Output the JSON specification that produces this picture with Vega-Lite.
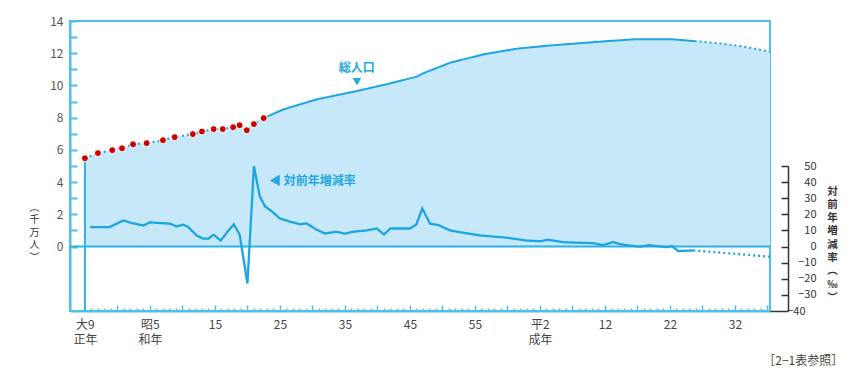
{
  "$schema": "https://vega.github.io/schema/vega-lite/v6.json",
  "width": 700,
  "height": 290,
  "autosize": "none",
  "padding": {"left": 70, "top": 21, "right": 85, "bottom": 74},
  "background": "white",
  "config": {
    "view": {"stroke": "#4DBFEC", "strokeWidth": 2},
    "font": "Noto Sans CJK JP"
  },
  "title": {"text": "［2−1表参照］", "orient": "bottom", "anchor": "end", "frame": "bounds", "fontSize": 12, "fontWeight": "normal", "color": "#4a3f3a", "offset": 11, "dx": 6},
  "datasets": {
    "pop": [
      {"year": 1920, "v": 5.48, "part": "estimate"},
      {"year": 1922, "v": 5.8, "part": "estimate"},
      {"year": 1924.2, "v": 5.98, "part": "estimate"},
      {"year": 1925.7, "v": 6.1, "part": "estimate"},
      {"year": 1927.4, "v": 6.35, "part": "estimate"},
      {"year": 1929.5, "v": 6.42, "part": "estimate"},
      {"year": 1932, "v": 6.6, "part": "estimate"},
      {"year": 1933.8, "v": 6.79, "part": "estimate"},
      {"year": 1936.6, "v": 6.98, "part": "estimate"},
      {"year": 1938, "v": 7.14, "part": "estimate"},
      {"year": 1939.8, "v": 7.29, "part": "estimate"},
      {"year": 1941.2, "v": 7.29, "part": "estimate"},
      {"year": 1942.8, "v": 7.41, "part": "estimate"},
      {"year": 1943.8, "v": 7.53, "part": "estimate"},
      {"year": 1944.9, "v": 7.22, "part": "estimate"},
      {"year": 1946, "v": 7.6, "part": "estimate"},
      {"year": 1947.5, "v": 7.97, "part": "estimate"},
      {"year": 1947.5, "v": 7.97, "part": "actual"},
      {"year": 1950.5, "v": 8.51, "part": "actual"},
      {"year": 1955.6, "v": 9.13, "part": "actual"},
      {"year": 1961.8, "v": 9.65, "part": "actual"},
      {"year": 1966.9, "v": 10.12, "part": "actual"},
      {"year": 1971, "v": 10.54, "part": "actual"},
      {"year": 1972, "v": 10.75, "part": "actual"},
      {"year": 1976.2, "v": 11.41, "part": "actual"},
      {"year": 1981.3, "v": 11.93, "part": "actual"},
      {"year": 1986.4, "v": 12.28, "part": "actual"},
      {"year": 1991.5, "v": 12.48, "part": "actual"},
      {"year": 1995.1, "v": 12.59, "part": "actual"},
      {"year": 2000.3, "v": 12.75, "part": "actual"},
      {"year": 2004.4, "v": 12.86, "part": "actual"},
      {"year": 2010.5, "v": 12.86, "part": "actual"},
      {"year": 2013.8, "v": 12.75, "part": "actual"},
      {"year": 2013.8, "v": 12.75, "part": "projection"},
      {"year": 2018.2, "v": 12.59, "part": "projection"},
      {"year": 2021.8, "v": 12.38, "part": "projection"},
      {"year": 2025.4, "v": 12.09, "part": "projection"}
    ],
    "rate": [
      {"year": 1920.8, "r": 12.1, "part": "actual"},
      {"year": 1923.8, "r": 12.1, "part": "actual"},
      {"year": 1925.9, "r": 16.2, "part": "actual"},
      {"year": 1927.2, "r": 14.6, "part": "actual"},
      {"year": 1929.0, "r": 13.1, "part": "actual"},
      {"year": 1930.0, "r": 15.0, "part": "actual"},
      {"year": 1931.5, "r": 14.6, "part": "actual"},
      {"year": 1933.1, "r": 14.2, "part": "actual"},
      {"year": 1934.1, "r": 12.5, "part": "actual"},
      {"year": 1935.1, "r": 13.6, "part": "actual"},
      {"year": 1935.9, "r": 12.1, "part": "actual"},
      {"year": 1937.2, "r": 6.8, "part": "actual"},
      {"year": 1938.2, "r": 4.9, "part": "actual"},
      {"year": 1939.0, "r": 4.9, "part": "actual"},
      {"year": 1939.8, "r": 7.4, "part": "actual"},
      {"year": 1940.9, "r": 3.7, "part": "actual"},
      {"year": 1941.8, "r": 8.5, "part": "actual"},
      {"year": 1942.9, "r": 13.8, "part": "actual"},
      {"year": 1943.8, "r": 7.4, "part": "actual"},
      {"year": 1945.0, "r": -22.9, "part": "actual"},
      {"year": 1946.0, "r": 49.9, "part": "actual"},
      {"year": 1946.9, "r": 31.2, "part": "actual"},
      {"year": 1947.7, "r": 25.0, "part": "actual"},
      {"year": 1948.7, "r": 22.0, "part": "actual"},
      {"year": 1950.0, "r": 17.4, "part": "actual"},
      {"year": 1951.3, "r": 15.8, "part": "actual"},
      {"year": 1953.1, "r": 13.8, "part": "actual"},
      {"year": 1954.1, "r": 14.4, "part": "actual"},
      {"year": 1955.6, "r": 10.6, "part": "actual"},
      {"year": 1956.9, "r": 8.1, "part": "actual"},
      {"year": 1958.7, "r": 9.2, "part": "actual"},
      {"year": 1960.0, "r": 8.0, "part": "actual"},
      {"year": 1961.3, "r": 9.2, "part": "actual"},
      {"year": 1963.3, "r": 10.0, "part": "actual"},
      {"year": 1964.9, "r": 11.2, "part": "actual"},
      {"year": 1966.0, "r": 7.5, "part": "actual"},
      {"year": 1967.0, "r": 11.2, "part": "actual"},
      {"year": 1970.0, "r": 11.2, "part": "actual"},
      {"year": 1971.0, "r": 13.8, "part": "actual"},
      {"year": 1971.9, "r": 23.7, "part": "actual"},
      {"year": 1973.1, "r": 14.2, "part": "actual"},
      {"year": 1974.4, "r": 13.3, "part": "actual"},
      {"year": 1976.2, "r": 10.0, "part": "actual"},
      {"year": 1977.7, "r": 8.9, "part": "actual"},
      {"year": 1980.8, "r": 6.9, "part": "actual"},
      {"year": 1984.9, "r": 5.5, "part": "actual"},
      {"year": 1988.0, "r": 3.7, "part": "actual"},
      {"year": 1990.0, "r": 3.3, "part": "actual"},
      {"year": 1991.3, "r": 4.2, "part": "actual"},
      {"year": 1993.6, "r": 2.7, "part": "actual"},
      {"year": 1998.2, "r": 2.1, "part": "actual"},
      {"year": 1999.7, "r": 0.9, "part": "actual"},
      {"year": 2001.2, "r": 2.7, "part": "actual"},
      {"year": 2002.6, "r": 1.3, "part": "actual"},
      {"year": 2005.4, "r": -0.1, "part": "actual"},
      {"year": 2006.7, "r": 0.9, "part": "actual"},
      {"year": 2009.5, "r": -0.4, "part": "actual"},
      {"year": 2010.3, "r": 0.2, "part": "actual"},
      {"year": 2011.3, "r": -2.8, "part": "actual"},
      {"year": 2013.6, "r": -2.4, "part": "actual"},
      {"year": 2013.6, "r": -2.4, "part": "projection"},
      {"year": 2025.4, "r": -6.3, "part": "projection"}
    ],
    "edge": [{"year": 1920, "v": -4, "v2": 5.48}],
    "zero": [{"year": 1917.7, "year2": 2025.4, "v": 0}],
    "notes": [
      {"year": 1961.8, "v": 11.09, "t": "総人口"},
      {"year": 1955.0, "v": 4.1, "t": "◀ 対前年増減率"}
    ],
    "arrow": [{"year": 1961.8, "v": 10.2, "t": "▼"}]
  },
  "resolve": {"scale": {"y": "independent"}},
  "encoding": {
    "x": {
      "field": "year", "type": "quantitative",
      "scale": {"domain": [1917.7, 2025.4], "nice": false, "zero": false},
      "axis": {
        "tickCount": 108, "tickMinStep": 1,
        "domainColor": "#4DBFEC", "domainWidth": 2,
        "tickColor": "#4DBFEC", "tickWidth": 1.5,
        "tickSize": {"condition": {"test": "datum.value % 5 === 0", "value": -6}, "value": -3},
        "tickOpacity": {"condition": {"test": "datum.value < 1920.5", "value": 0}, "value": 1},
        "labelExpr": "datum.value === 1920 ? ['大9','正年'] : datum.value === 1930 ? ['昭5','和年'] : datum.value === 1990 ? ['平2','成年'] : (datum.value % 10 === 0 && datum.value > 1930 && datum.value < 1990) ? '' + (datum.value - 1925) : (datum.value % 10 === 0 && datum.value > 1990) ? '' + (datum.value - 1988) : ''",
        "labelColor": "#444", "labelFontSize": 12, "labelPadding": 14, "labelLineHeight": 15,
        "labelFlush": false, "labelOverlap": false, "labelBound": false,
        "title": null, "grid": false
      }
    }
  },
  "layer": [
    {
      "encoding": {
        "y": {
          "field": "v", "type": "quantitative",
          "scale": {"domain": [-4, 14], "nice": false, "zero": false},
          "axis": {
            "values": [0, 1, 2, 3, 4, 5, 6, 7, 8, 9, 10, 11, 12, 13, 14],
            "labelExpr": "datum.value % 2 === 0 ? datum.label : ''",
            "tickSize": -7, "tickColor": "#4DBFEC", "tickWidth": 2,
            "domainColor": "#4DBFEC", "domainWidth": 2,
            "labelColor": "#555", "labelFontSize": 12, "labelPadding": 14,
            "labelOverlap": false, "labelBound": false, "labelFlush": false,
            "grid": false,
            "title": ["︵", "千", "万", "人", "︶"],
            "titleAngle": 0, "titleX": -36, "titleY": 181,
            "titleAlign": "center", "titleBaseline": "top",
            "titleFontSize": 10, "titleFontWeight": "normal", "titleColor": "#333", "titleLineHeight": 12.5
          }
        }
      },
      "layer": [
        {
          "data": {"name": "pop"},
          "mark": {"type": "area", "color": "#C7E8F8"},
          "encoding": {"y2": {"datum": 0}}
        },
        {
          "data": {"name": "edge"},
          "mark": {"type": "rule", "color": "#2FB2E8", "strokeWidth": 2},
          "encoding": {"y2": {"field": "v2"}}
        },
        {
          "data": {"name": "zero"},
          "mark": {"type": "rule", "color": "#2FB2E8", "strokeWidth": 2},
          "encoding": {"x2": {"field": "year2"}}
        },
        {
          "data": {"name": "pop"},
          "mark": {"type": "line", "color": "#1BA6E3", "strokeWidth": 2},
          "encoding": {
            "strokeDash": {"field": "part", "type": "nominal", "scale": {"domain": ["estimate", "actual", "projection"], "range": [[2, 3], [1, 0], [2, 3]]}, "legend": null}
          }
        },
        {
          "data": {"name": "pop"},
          "transform": [{"filter": "datum.part === 'estimate'"}],
          "mark": {"type": "point", "filled": true, "fill": "#CC0000", "stroke": "white", "strokeWidth": 1, "size": 48, "opacity": 1}
        },
        {
          "data": {"name": "notes"},
          "mark": {"type": "text", "color": "#22A7E0", "fontSize": 12, "align": "center", "baseline": "middle", "fontWeight": "bold"},
          "encoding": {"text": {"field": "t"}}
        },
        {
          "data": {"name": "arrow"},
          "mark": {"type": "text", "color": "#22A7E0", "fontSize": 9, "align": "center", "baseline": "middle"},
          "encoding": {"text": {"field": "t"}}
        }
      ]
    },
    {
      "encoding": {
        "y": {
          "field": "r", "type": "quantitative",
          "scale": {"domain": [-40, 50], "range": [290, 145], "nice": false, "zero": false},
          "axis": {
            "orient": "right", "offset": 18,
            "values": [-40, -30, -20, -10, 0, 10, 20, 30, 40, 50],
            "domainColor": "#333", "domainWidth": 1.5,
            "tickColor": "#333", "tickWidth": 1.5,
            "tickSize": {"condition": {"test": "datum.value === -40", "value": -18}, "value": -7},
            "labelAlign": "right", "labelPadding": 35,
            "labelColor": "#333", "labelFontSize": 11,
            "labelOverlap": false, "labelBound": false, "labelFlush": false,
            "grid": false,
            "title": ["対", "前", "年", "増", "減", "率", "︵", "‰", "︶"],
            "titleAngle": 0, "titleX": 44, "titleY": 165,
            "titleAlign": "center", "titleBaseline": "top",
            "titleFontSize": 10.5, "titleFontWeight": "bold", "titleColor": "#333", "titleLineHeight": 13.3
          }
        }
      },
      "layer": [
        {
          "data": {"name": "rate"},
          "mark": {"type": "line", "color": "#1BA6E3", "strokeWidth": 2.3},
          "encoding": {
            "strokeDash": {"field": "part", "type": "nominal", "scale": {"domain": ["estimate", "actual", "projection"], "range": [[2, 3], [1, 0], [2, 3]]}, "legend": null}
          }
        }
      ]
    }
  ]
}
